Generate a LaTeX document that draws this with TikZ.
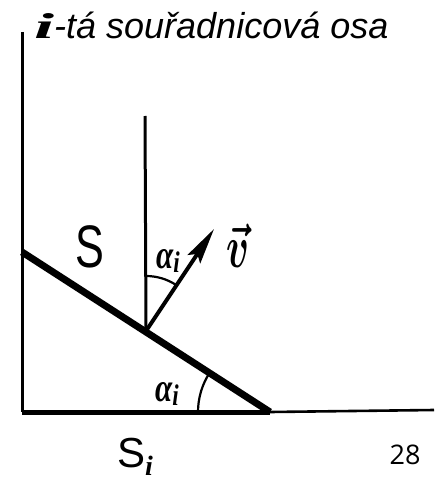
\documentclass[tikz,border=0pt]{standalone}
\usepackage{amsmath}
\usepackage{fontspec}
\setsansfont{Liberation Sans}
\newfontfamily\numfont{Open Sans}
\newfontfamily\hand{Liberation Serif}
\usetikzlibrary{arrows.meta,calc}
\newcommand{\hi}{{\hand\bfseries\itshape i}}
\begin{document}
\begin{tikzpicture}[x=1pt,y=-1pt,
  axis/.style={line width=3pt},
  thin axis/.style={line width=2.6pt},
  plane/.style={line width=7pt},
  arcline/.style={line width=2.2pt},
  lbl/.style={inner sep=0pt},
  alab/.style={lbl,font=\hand\bfseries\itshape\fontsize{31}{34}\selectfont}]
\useasboundingbox (0,0) rectangle (434,481);
% coordinates
\coordinate (O) at (22,412);
\coordinate (Top) at (22,32);
\coordinate (P) at (270,412);
\coordinate (R) at (434,410);
\coordinate (Q) at (22,252);
\coordinate (N) at (146,331);
\coordinate (NT) at (145,116);
\coordinate (V) at (214,229);
% axes
\draw[axis] (Top) -- (O);
\draw[line width=5pt] (O) -- (P);
\draw[thin axis] (P) -- (R);
% plane S
\draw[plane] (Q) -- (P);
% vertical through point
\draw[axis] (N) -- (NT);
% vector
\draw[line width=4pt,-{Stealth[length=36pt,width=15pt,inset=6pt]}] (N) -- (V);
% arcs
\draw[arcline] ($(N)+(0,-55)$) arc[start angle=-90,end angle=-57,radius=55];
\draw[arcline] ($(P)+(-72,0)$) arc[start angle=180,end angle=213,radius=72];
% labels
\node[alab] (a1) at (168,261) {\scalebox{1}[1.3]{α\raisebox{-3pt}{\fontsize{23}{25}\selectfont i}}};
\node[lbl] (v) at (238,246) {\scalebox{3.8}[6]{\boldmath$\vec{v}$}};
\node[alab] (a2) at (167,394) {\scalebox{1}[1.3]{α\raisebox{-3pt}{\fontsize{23}{25}\selectfont i}}};
\node[lbl,font=\sffamily\fontsize{60}{64}\selectfont] (S) at (90,247) {\scalebox{0.72}[1]{S}};
\node[lbl,font=\sffamily\fontsize{42}{46}\selectfont,anchor=base west] (Si) at (117,467) {S\raisebox{-8pt}{\hand\bfseries\itshape\fontsize{28}{30}\selectfont i}};
\node[lbl,font=\numfont\fontsize{27}{30}\selectfont] (n28) at (405,455) {28};
\node[lbl,anchor=base west] (title) at (34,39) {\fontsize{36}{40}\selectfont\scalebox{2}[1]{\hi}\sffamily\itshape -tá souřadnicová osa};
\end{tikzpicture}
\end{document}
